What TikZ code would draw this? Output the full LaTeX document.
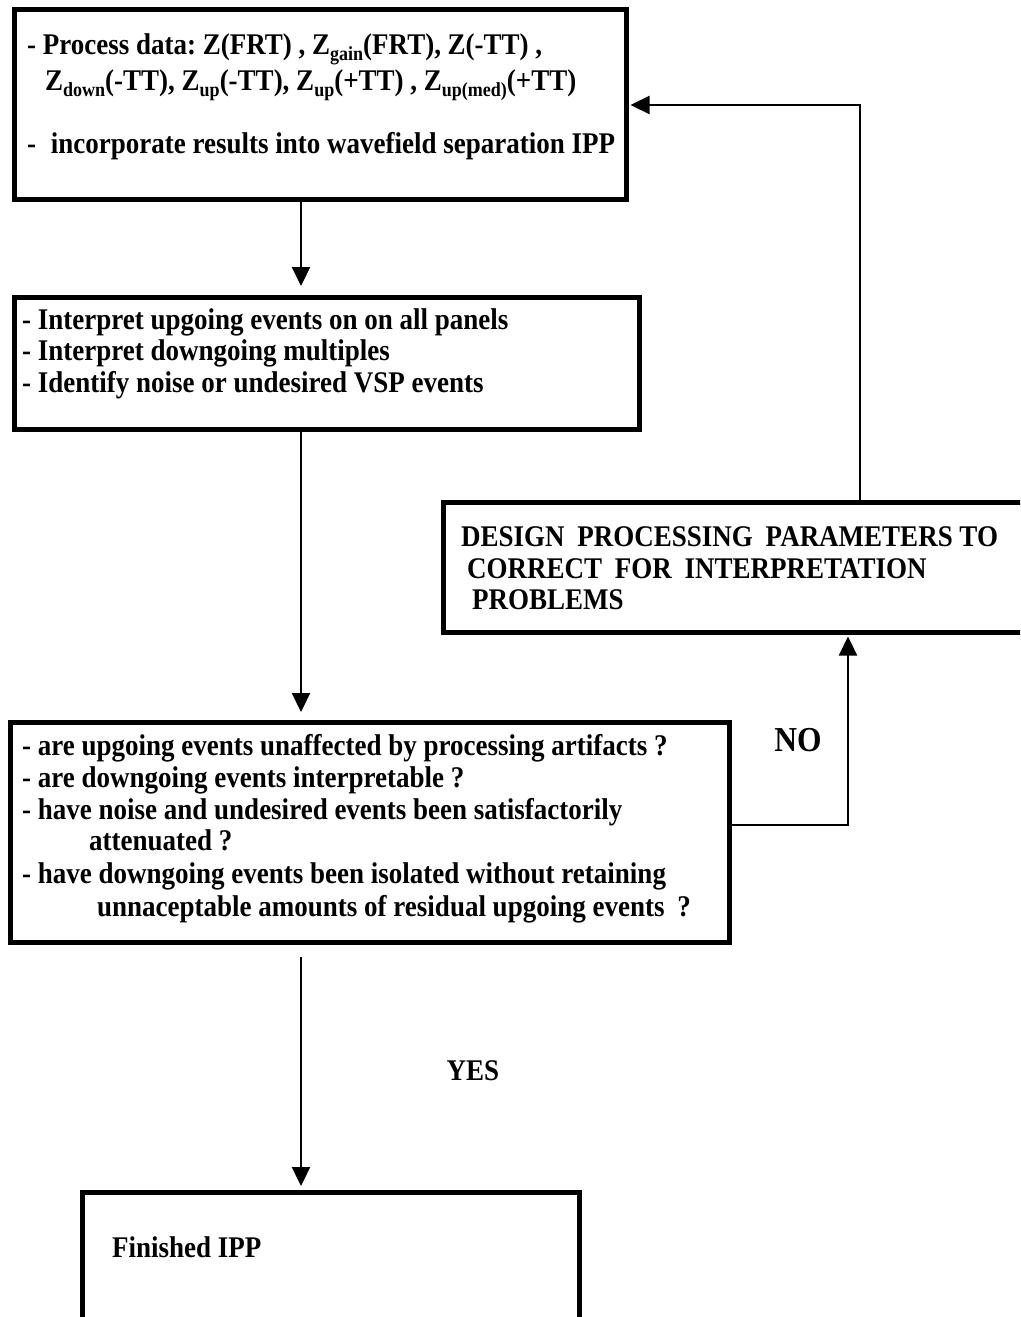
\documentclass[tikz,border=0pt]{standalone}
\usepackage{fontspec}
\setmainfont{Liberation Serif}[FakeStretch=0.9]
\usetikzlibrary{arrows.meta}
\frenchspacing
\newcommand\bodyfont{\fontsize{30}{34}\selectfont\bfseries}
\newcommand\zs[1]{\raisebox{-6pt}{\fontsize{20}{20}\selectfont\bfseries #1}}
\tikzset{
  box/.style={draw, line width=4.5pt, inner sep=0pt, anchor=north west},
  txt/.style={anchor=base west, inner sep=0pt, font=\bodyfont},
  lbl/.style={anchor=center, inner sep=0pt, font=\bodyfont},
  arr/.style={line width=2.3pt, -{Triangle[length=19pt,width=18pt]}},
  conn/.style={line width=2.3pt}
}
\begin{document}
\begin{tikzpicture}[x=1pt,y=-1pt]
\useasboundingbox (0,0) rectangle (1020,1317);
\clip (0,0) rectangle (1020,1317);
% boxes
\node[box, minimum width=612pt, minimum height=190pt] (b1) at (12,7) {};
\node[box, minimum width=625pt, minimum height=132pt] (b2) at (12,295) {};
\node[box, minimum width=719pt, minimum height=220pt] (b3) at (8,720) {};
\node[box, minimum width=497pt, minimum height=160pt] (b4) at (80,1190) {};
\node[box, minimum width=620pt, minimum height=130pt] (bd) at (441,500) {};
% texts box 1
\node[txt] (t11) at (27,54) {- Process data: Z(FRT) , Z\zs{gain}(FRT), Z(-TT) ,};
\node[txt] (t12) at (45,90) {Z\zs{down}(-TT), Z\zs{up}(-TT), Z\zs{up}(+TT) , Z\zs{up(med)}(+TT)};
\node[txt] (t13) at (27,153) {-\hspace{8pt} incorporate results into wavefield separation IPP};
% texts box 2
\node[txt] (t21) at (22,329) {- Interpret upgoing events on on all panels};
\node[txt] (t22) at (22,360) {- Interpret downgoing multiples};
\node[txt] (t23) at (22,392) {- Identify noise or undesired VSP events};
% texts box 3
\node[txt] (t31) at (22,755) {- are upgoing events unaffected by processing artifacts ?};
\node[txt] (t32) at (22,787) {- are downgoing events interpretable ?};
\node[txt] (t33) at (22,819) {- have noise and undesired events been satisfactorily};
\node[txt] (t34) at (89,850) {attenuated ?};
\node[txt] (t35) at (22,883) {- have downgoing events been isolated without retaining};
\node[txt] (t36) at (97,916) {unnaceptable amounts of residual upgoing events\hspace{6pt} ?};
% design box
\node[txt] (td1) at (461,546) {DESIGN\hspace{6pt} PROCESSING\hspace{6pt} PARAMETERS TO};
\node[txt] (td2) at (467,578) {CORRECT\hspace{6pt} FOR\hspace{6pt} INTERPRETATION};
\node[txt] (td3) at (472,609) {PROBLEMS};
% finished
\node[txt] (t41) at (112,1257) {Finished IPP};
% labels
\node[lbl, font=\fontsize{35}{35}\selectfont\bfseries] (no) at (798,740) {NO};
\node[lbl] (yes) at (473,1071) {YES};
% coordinates
\coordinate (cx) at (301,0);
\coordinate (noturn) at (848,825);
\coordinate (loopturn) at (860,105);
% connectors
\draw[arr, shorten >=9pt] (b1.south -| cx) -- (b2.north -| cx);
\draw[arr, shorten >=8pt] (b2.south -| cx) -- (b3.north -| cx);
\draw[arr, shorten <=12pt, shorten >=4pt] (b3.south -| cx) -- (b4.north -| cx);
\draw[arr, shorten >=2pt] (b3.east |- noturn) -- (noturn) -- (bd.south -| noturn);
\draw[arr, shorten >=2pt] (bd.north -| loopturn) -- (loopturn) -- (b1.east |- loopturn);
\end{tikzpicture}
\end{document}
